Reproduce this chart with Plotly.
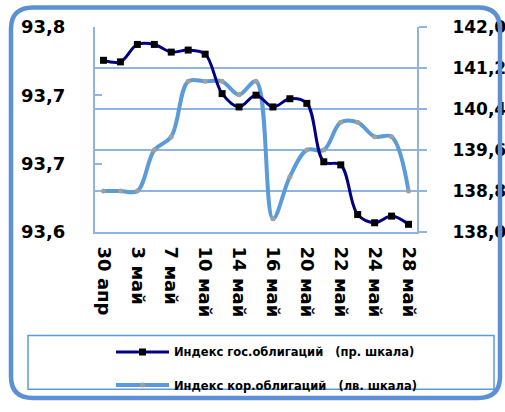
import plotly.graph_objects as go

dates = ["30 апр", "2 май", "3 май", "6 май", "7 май", "8 май", "10 май", "13 май",
         "14 май", "15 май", "16 май", "17 май", "20 май", "21 май", "22 май",
         "23 май", "24 май", "27 май", "28 май"]
gov_index = [141.35, 141.32, 141.66, 141.66, 141.51, 141.55, 141.47, 140.70, 140.44,
             140.67, 140.44, 140.60, 140.51, 139.37, 139.31, 138.34, 138.18, 138.31, 138.15]
corp_index = [93.640, 93.640, 93.640, 93.680, 93.693, 93.747, 93.747, 93.747, 93.734,
              93.747, 93.613, 93.654, 93.680, 93.680, 93.707, 93.707, 93.693, 93.693, 93.640]
left_ticks = [93.6, 93.6667, 93.7333, 93.8]
left_labels = ["93,6", "93,7", "93,7", "93,8"]
right_ticks = [138.0, 138.8, 139.6, 140.4, 141.2, 142.0]
right_labels = ["138,0", "138,8", "139,6", "140,4", "141,2", "142,0"]
name_gov = "Индекс\u00a0гос.облигаций\u00a0\u00a0\u00a0(пр.\u00a0шкала)"
name_corp = "Индекс\u00a0кор.облигаций\u00a0\u00a0\u00a0(лв.\u00a0шкала)"

xs = list(range(len(dates)))
label_idx = xs[::2]
label_text = [dates[i] for i in label_idx]
bound_ticks = [i + 0.5 for i in label_idx]

W, H = 505, 412
L, R, T, B = 95, 417, 27, 237
ml, mr, mt, mb = L, W - R, T, H - B


def px(x):
    return (x - L) / (R - L)


def py(y):
    return (B - y) / (B - T)


GRID = "#8DB4E2"
FONT = "DejaVu Sans"
NAVY = "#000080"
LIGHT = "#5B9BDA"

fig = go.Figure()
fig.add_trace(go.Scatter(
    x=xs, y=corp_index, name=name_corp, mode="lines+markers",
    line=dict(color=LIGHT, width=4, shape="spline"),
    marker=dict(color="#A0A0A0", size=5, symbol="circle"),
    yaxis="y", legend="legend2"))
fig.add_trace(go.Scatter(
    x=xs, y=gov_index, name=name_gov, mode="lines+markers",
    line=dict(color=NAVY, width=3, shape="spline"),
    marker=dict(color="black", size=7, symbol="square"),
    yaxis="y2", legend="legend"))

# rounded outer border
x0, x1, y0, y1, r = 11, 500, 7, 407, 22
path = (f"M {px(x0 + r)},{py(y0)} L {px(x1 - r)},{py(y0)} Q {px(x1)},{py(y0)} {px(x1)},{py(y0 + r)} "
        f"L {px(x1)},{py(y1 - r)} Q {px(x1)},{py(y1)} {px(x1 - r)},{py(y1)} "
        f"L {px(x0 + r)},{py(y1)} Q {px(x0)},{py(y1)} {px(x0)},{py(y1 - r)} "
        f"L {px(x0)},{py(y0 + r)} Q {px(x0)},{py(y0)} {px(x0 + r)},{py(y0)} Z")

legend_font = dict(family=FONT, size=11.5, color="black", weight="bold")

fig.update_layout(
    width=W, height=H,
    margin=dict(l=ml, r=mr, t=mt, b=mb, pad=0),
    paper_bgcolor="white", plot_bgcolor="white",
    font=dict(family=FONT, size=18, color="black"),
    xaxis=dict(range=[-0.5, 18.5], tickmode="array", tickvals=label_idx, ticktext=label_text,
               tickangle=90, ticks="", showgrid=False, zeroline=False,
               showline=True, linecolor=GRID, linewidth=2,
               tickfont=dict(family=FONT, size=18, color="black", weight="bold"),
               ticklabelstandoff=9, automargin=False),
    xaxis2=dict(range=[-0.5, 18.5], overlaying="x", anchor="y", side="bottom",
                tickmode="array", tickvals=bound_ticks, ticks="outside", ticklen=8,
                tickwidth=2, tickcolor=GRID, showticklabels=False, showgrid=False,
                zeroline=False, showline=False),
    xaxis3=dict(range=[-0.5, 18.5], overlaying="x", anchor="y", side="bottom",
                tickmode="array", tickvals=bound_ticks, ticks="inside", ticklen=7,
                tickwidth=2, tickcolor=GRID, showticklabels=False, showgrid=False,
                zeroline=False, showline=False),
    yaxis=dict(range=[93.6, 93.8], tickmode="array", tickvals=left_ticks, ticktext=left_labels,
               ticks="inside", ticklen=7, tickwidth=2, tickcolor=GRID,
               showgrid=False, zeroline=False, showline=True, linecolor=GRID, linewidth=2,
               tickfont=dict(family=FONT, size=18, color="black", weight="bold"),
               ticklabelstandoff=24, automargin=False),
    yaxis2=dict(range=[138.0, 142.0], overlaying="y", side="right", anchor="x",
                tickmode="array", tickvals=right_ticks, ticktext=right_labels,
                ticks="outside", ticklen=8, tickwidth=2, tickcolor=GRID,
                showgrid=True, gridcolor=GRID, gridwidth=2, zeroline=False,
                showline=True, linecolor=GRID, linewidth=2,
                tickfont=dict(family=FONT, size=17, color="black", weight="bold"),
                ticklabelstandoff=22, automargin=False),
    legend=dict(x=px(111), y=py(345), xanchor="left", yanchor="top",
                bgcolor="rgba(0,0,0,0)", borderwidth=0, itemwidth=53, font=legend_font),
    legend2=dict(x=px(111), y=py(379), xanchor="left", yanchor="top",
                 bgcolor="rgba(0,0,0,0)", borderwidth=0, itemwidth=53, font=legend_font),
    shapes=[
        dict(type="rect", xref="paper", yref="paper", x0=px(28), x1=px(494), y0=py(343), y1=py(398),
             line=dict(color=LIGHT, width=1.5), fillcolor="rgba(0,0,0,0)", layer="below"),
        dict(type="path", xref="paper", yref="paper", path=path,
             line=dict(color="#5B8FD6", width=4.5), fillcolor="rgba(0,0,0,0)", layer="above"),
    ],
    showlegend=True,
)

fig.write_html("out.html", config={"displayModeBar": False},
               post_script="document.body.style.margin='0';")
